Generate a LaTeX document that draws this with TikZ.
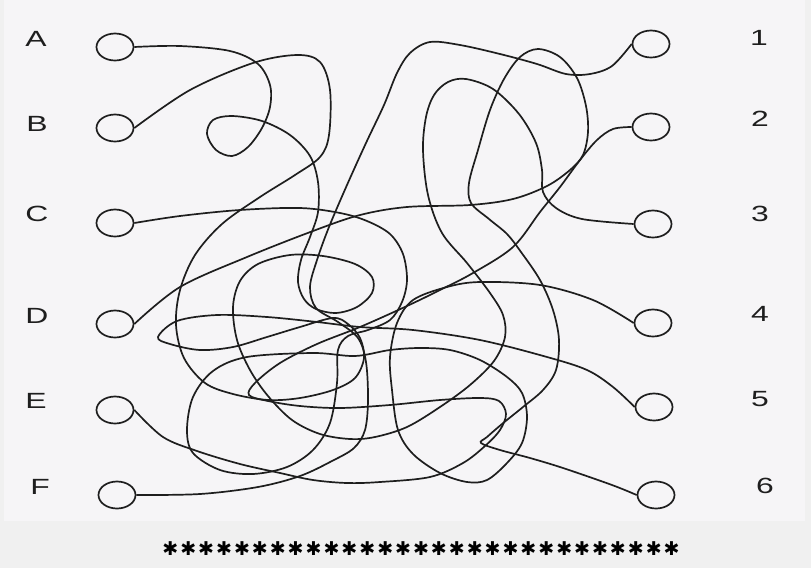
\documentclass[tikz,border=0pt]{standalone}
\usepackage{fontspec}
\setmainfont{Liberation Sans}
\newfontfamily\symfont{DejaVu Sans}
\usetikzlibrary{shapes.geometric}
\definecolor{paper}{RGB}{246,245,247}
\definecolor{surround}{RGB}{240,240,240}
\definecolor{ink}{RGB}{30,30,30}
\tikzset{
  ring/.style={ellipse,draw=ink,line width=1.7pt,minimum width=37pt,minimum height=27pt,inner sep=0pt},
  lab/.style={font=\fontsize{22}{22}\selectfont,text=ink,xscale=1.45,inner sep=0pt},
  wire/.style={draw=ink,line width=1.7pt},
}
\newcommand\onestar{\makebox[17.9pt]{✱}}
\newcommand\fivestars{\onestar\onestar\onestar\onestar\onestar}
\begin{document}
\begin{tikzpicture}[x=1pt,y=-1pt]
\fill[surround] (0,0) rectangle (811,568);
\fill[paper] (4,0) rectangle (805,521);
\useasboundingbox (0,0) rectangle (811,568);
% rings
\node[ring] (A) at (115,47) {};
\node[ring] (B) at (115,128) {};
\node[ring] (C) at (115,223) {};
\node[ring] (D) at (115,324) {};
\node[ring] (E) at (115,410) {};
\node[ring] (F) at (117,495) {};
\node[ring] (n1) at (651,44) {};
\node[ring] (n2) at (651,127) {};
\node[ring] (n3) at (653,224) {};
\node[ring] (n4) at (653,323) {};
\node[ring] (n5) at (654,407) {};
\node[ring] (n6) at (656,495) {};
% labels
\node[lab] (lA) at (36,39) {A};
\node[lab] (lB) at (37,124) {B};
\node[lab] (lC) at (37,214) {C};
\node[lab] (lD) at (37,316) {D};
\node[lab] (lE) at (36,401) {E};
\node[lab] (lF) at (40,487) {F};
\node[lab] (l1) at (759,38) {1};
\node[lab] (l2) at (760,119) {2};
\node[lab] (l3) at (760,214) {3};
\node[lab] (l4) at (760,314) {4};
\node[lab] (l5) at (760,399) {5};
\node[lab] (l6) at (765,486) {6};
% A->3
\draw[wire] plot[smooth,tension=0.55] coordinates {(A.east) (180,46) (230,51) (258,64) (270,85) (270,107) (262,128) (248,147) (232,156) (216,150) (207,134) (213,120) (232,116) (262,121) (290,135) (310,156) (318,182) (318,212) (310,237) (301,260) (298,282) (304,299) (316,309) (336,313) (357,307) (372,293) (372,277) (355,264) (323,256) (290,255) (258,264) (240,281) (233,307) (237,340) (250,370) (268,396) (292,420) (320,434) (350,439) (375,437) (407,427) (440,407) (470,385) (494,361) (505,337) (503,315) (490,293) (467,263) (442,233) (428,195) (423,150) (426,117) (434,95) (448,82) (466,79) (493,89) (519,114) (536,143) (542,170) (543,192) (556,208) (582,219) (n3.west)};
% F->1
\draw[wire] plot[smooth,tension=0.55] coordinates {(F.east) (200,494) (258,487) (300,476) (332,461) (354,448) (365,430) (368,400) (366,362) (358,338) (338,322) (316,308) (310,287) (317,260) (329,227) (347,185) (366,143) (384,105) (397,73) (410,53) (430,42) (460,45) (500,54) (537,64) (566,74) (590,74) (612,66) (n1.west)};
% D->6
\draw[wire] plot[smooth,tension=0.55] coordinates {(D.east) (180,287) (247,257) (313,231) (360,215) (407,207) (470,205) (513,199) (547,186) (570,170) (583,155) (588,132) (586,106) (577,78) (560,57) (538,49) (520,57) (504,79) (490,110) (478,150) (469,183) (471,203) (489,219) (507,234) (521,252) (540,280) (553,310) (559,340) (556,370) (543,390) (523,407) (502,424) (487,437) (481,443) (500,450) (530,458) (563,468) (612,485) (n6.west)};
% E->2
\draw[wire] plot[smooth,tension=0.55] coordinates {(E.east) (163,437) (197,451) (240,464) (280,473) (313,480) (347,483) (380,482) (430,477) (463,463) (485,446) (500,430) (506,414) (499,401) (480,398) (440,400) (390,405) (340,408) (300,406) (268,401) (249,395) (255,383) (280,363) (317,344) (360,327) (407,306) (440,290) (473,273) (513,247) (540,212) (560,187) (580,160) (597,140) (613,129) (n2.west)};
% C->4
\draw[wire] plot[smooth,tension=0.55] coordinates {(C.east) (180,216) (240,210) (300,208) (340,213) (367,221) (390,234) (403,254) (407,280) (402,302) (390,320) (368,330) (348,336) (338,350) (337,383) (330,423) (313,450) (287,467) (253,474) (220,470) (193,453) (187,430) (193,397) (213,371) (247,357) (313,353) (355,356) (390,350) (420,348) (450,350) (480,360) (507,377) (522,393) (527,417) (522,443) (507,463) (487,480) (467,482) (440,473) (413,454) (398,430) (392,390) (390,357) (397,323) (413,300) (447,287) (480,282) (540,285) (593,300) (n4.west)};
% B->5
\draw[wire] plot[smooth,tension=0.55] coordinates {(B.east) (190,90) (253,63) (297,55) (320,62) (330,90) (329,135) (320,157) (295,175) (260,197) (222,224) (195,255) (180,290) (176,325) (184,358) (205,383) (233,394) (268,400) (300,398) (333,390) (355,378) (364,358) (360,338) (348,324) (333,318) (300,327) (267,337) (233,347) (200,350) (170,344) (158,337) (177,321) (217,315) (267,317) (317,322) (360,327) (413,330) (480,340) (547,357) (587,370) (613,387) (n5.west)};
% stars
\node[font=\symfont\fontsize{19}{19}\selectfont,text=black,inner sep=0pt] (stars) at (421,549) {\fivestars\fivestars\fivestars\fivestars\fivestars\onestar\onestar\onestar\onestar};
\end{tikzpicture}
\end{document}
